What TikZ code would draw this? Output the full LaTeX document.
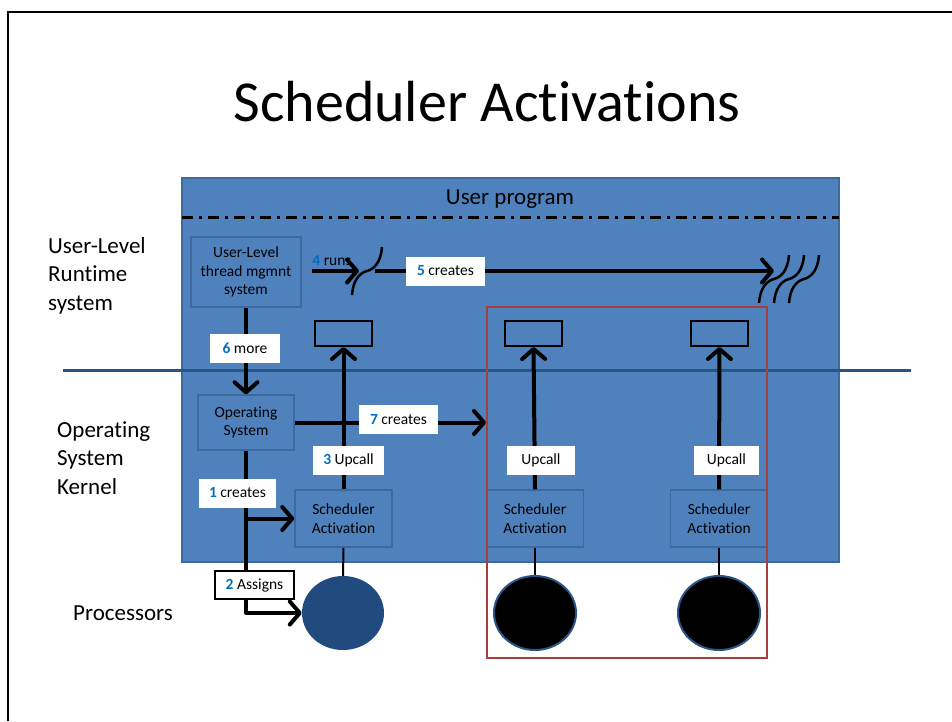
\documentclass[tikz,border=0pt]{standalone}
\usepackage{fontspec}
\setmainfont{Carlito}[Ligatures=NoCommon]
\usetikzlibrary{arrows.meta,shapes.geometric,positioning}

\definecolor{slideblue}{HTML}{4F81BD}
\definecolor{edgeblue}{HTML}{3D6A9E}
\definecolor{lineblue}{HTML}{2A5486}
\definecolor{darkblue}{HTML}{214A7E}
\definecolor{numblue}{HTML}{0070C0}
\definecolor{groupred}{HTML}{A33F3D}

\newcommand{\stepno}[1]{\textcolor{numblue}{\textbf{#1}}}

\begin{document}
\begin{tikzpicture}[x=1pt,y=-1pt,
  box/.style={draw=edgeblue,line width=1.5pt,fill=slideblue,align=center,
    font=\fontsize{15.5}{18.5}\selectfont,inner sep=0pt},
  kthread/.style={draw=black,line width=2pt,minimum width=57pt,minimum height=25pt,inner sep=0pt},
  tag/.style={fill=white,font=\fontsize{15.5}{18}\selectfont,inner sep=0pt,minimum height=29pt},
  cpu/.style={ellipse,minimum width=82pt,minimum height=74pt,inner sep=0pt},
  side/.style={align=left,anchor=north west,font=\fontsize{23}{28.5}\selectfont,inner sep=0pt},
  flow/.style={line width=4pt,line join=round,-{Straight Barb[round,length=10pt,width=23pt]}},
  ulthread/.pic={
    \draw[line width=2.5pt] (-15,24) .. controls (-14,10) and (-8,2) .. (0,0)
      .. controls (8,-2) and (14,-10) .. (15,-24);
  }
]
\useasboundingbox (0,0) rectangle (952,721);
\draw[line width=2pt] (7.5,721) -- (7.5,12) -- (952,12);

\node[font=\fontsize{58}{60}\selectfont] (title) at (487,102) {Scheduler Activations};

% side labels
\node[side] (ulrs) at (48,237) {User-Level\\Runtime\\system};
\node[side] (osk) at (57,421) {Operating\\System\\Kernel};
\node[side] (procs) at (73,606) {Processors};

% user program area
\node[draw=edgeblue,fill=slideblue,line width=2pt,minimum width=657pt,minimum height=384pt,inner sep=0pt]
  (prog) at (510.5,370) {};
\node[font=\fontsize{23}{26}\selectfont] (progname) at (510,199) {User program};
\draw[line width=3pt,dash pattern=on 11pt off 6pt on 3pt off 6pt] (182,217) -- (839,217);
\draw[lineblue,line width=3pt] (63,370) -- (911,370);

% boxes
\node[box,minimum width=110pt,minimum height=70pt] (ult) at (246,272) {User-Level\\thread mgmnt\\system};
\node[box,minimum width=96pt,minimum height=55pt] (os) at (246,422.5) {Operating\\System};
\node[box,minimum width=97pt,minimum height=57pt] (sa1) at (343.5,518.5) {Scheduler\\Activation};
\node[box,minimum width=97pt,minimum height=57pt] (sa2) at (535,518.5) {Scheduler\\Activation};
\node[box,minimum width=97pt,minimum height=57pt] (sa3) at (719,518.5) {Scheduler\\Activation};

\node[kthread] (kt1) at (343.5,333.5) {};
\node[kthread] (kt2) at (533.5,333.5) {};
\node[kthread] (kt3) at (719.5,333.5) {};

\node[cpu,fill=darkblue] (p1) at (343,613) {};
\node[cpu,fill=black,draw=lineblue,line width=2pt] (p2) at (535,613) {};
\node[cpu,fill=black,draw=lineblue,line width=2pt] (p3) at (719,613) {};

\node[draw=groupred,line width=2pt,minimum width=280pt,minimum height=351pt,inner sep=0pt]
  (grp) at (627,482.5) {};

% user-level threads
\coordinate (runs) at (312,271);
\pic at (367,271) {ulthread};
\coordinate (thrmid) at (367,271);
\coordinate (many) at (774,271);
\pic at (774,279) {ulthread};
\pic at (789,279) {ulthread};
\pic at (804,279) {ulthread};

% connectors
\draw[flow] (runs) -- ([xshift=-8pt]thrmid);
\draw[flow] ([xshift=8pt]thrmid) -- (many);
\draw[flow] (ult.south) -- (os.north);
\draw[flow] (os.east) -- (os.east -| grp.west);
\draw[flow] (os.south) |- (p1.west);
\draw[flow] (os.south |- sa1.west) -- (sa1.west);
\draw[flow] (sa1.north) -- (kt1.south);
\draw[flow] (sa2.north) -- (kt2.south);
\draw[flow] (sa3.north) -- (kt3.south);
\draw[line width=2pt] (sa1.south) -- (p1.north);
\draw[line width=2pt] (sa2.south) -- (p2.north);
\draw[line width=2pt] (sa3.south) -- (p3.north);

% step labels
\node[font=\fontsize{15.5}{18}\selectfont,inner sep=0pt] (l4) at (332,261) {\stepno{4} runs};
\node[tag,minimum width=79pt] (l5) at (445.5,271) {\stepno{5} creates};
\node[tag,minimum width=70pt] (l6) at (245,348.5) {\stepno{6} more};
\node[tag,minimum width=79pt] (l7) at (398.5,419.5) {\stepno{7} creates};
\node[tag,minimum width=71pt] (l3) at (348.5,460.5) {\stepno{3} Upcall};
\node[tag,minimum width=68pt] (u2) at (541,460.5) {Upcall};
\node[tag,minimum width=65pt] (u3) at (726.5,460.5) {Upcall};
\node[tag,minimum width=77pt] (l1) at (237.5,493) {\stepno{1} creates};
\node[tag,draw=black,line width=2pt,minimum width=79pt,minimum height=28pt] (l2) at (254.5,585) {\stepno{2} Assigns};
\end{tikzpicture}
\end{document}
